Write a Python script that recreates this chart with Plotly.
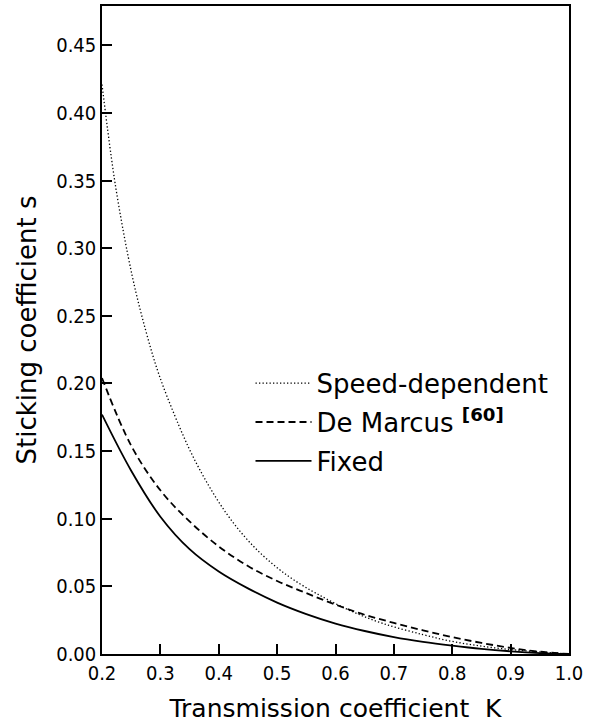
import plotly.graph_objects as go

# --- data ---
k_fixed = [0.2, 0.25, 0.3, 0.35, 0.4, 0.45, 0.5, 0.55, 0.6, 0.65,
           0.7, 0.75, 0.8, 0.85, 0.9, 0.95, 1.0]
s_fixed = [0.177, 0.1355, 0.1015, 0.0775, 0.0610, 0.0485, 0.0380, 0.0295, 0.0225, 0.0170,
           0.0125, 0.0090, 0.0062, 0.0038, 0.0020, 0.0007, 0.0]

k_demarcus = [0.2, 0.25, 0.3, 0.35, 0.4, 0.45, 0.5, 0.55, 0.6, 0.65,
              0.7, 0.75, 0.8, 0.85, 0.9, 0.95, 1.0]
s_demarcus = [0.204, 0.154, 0.121, 0.098, 0.0795, 0.065, 0.054, 0.045, 0.0365, 0.029,
              0.023, 0.0175, 0.0125, 0.0082, 0.0045, 0.0017, 0.0]

k_speed = [0.2, 0.2235, 0.252, 0.275, 0.298, 0.332, 0.355, 0.383, 0.412, 0.441,
           0.469, 0.498, 0.526, 0.567, 0.624, 0.681, 0.75, 0.8, 0.85, 0.9, 0.95, 1.0]
s_speed = [0.421, 0.345, 0.279, 0.239, 0.206, 0.1686, 0.1467, 0.1243, 0.1046, 0.0884,
           0.0755, 0.0645, 0.0555, 0.0448, 0.0323, 0.0226, 0.0143, 0.0093, 0.0058, 0.0033,
           0.0015, 0.0]

x_ticks = [0.2, 0.3, 0.4, 0.5, 0.6, 0.7, 0.8, 0.9, 1.0]
y_ticks = [0.0, 0.05, 0.10, 0.15, 0.20, 0.25, 0.30, 0.35, 0.40, 0.45]

names = ["Speed-dependent", "De Marcus <sup><b>[60]</b></sup>", "Fixed"]

TICKFONT = "Liberation Sans Narrow, DejaVu Sans Condensed, Arial Narrow, sans-serif"
TEXTFONT = "DejaVu Sans, Verdana, sans-serif"

fig = go.Figure()
fig.add_trace(go.Scatter(x=k_speed, y=s_speed, mode="lines", name=names[0],
                         line=dict(color="black", width=1.3, dash="1.3px,2.2px", shape="spline"),
                         legendgroup="a"))
fig.add_trace(go.Scatter(x=k_demarcus, y=s_demarcus, mode="lines", name=names[1],
                         line=dict(color="black", width=1.8, dash="7px,4px", shape="spline"),
                         legendgroup="b"))
fig.add_trace(go.Scatter(x=k_fixed, y=s_fixed, mode="lines", name=names[2],
                         line=dict(color="black", width=1.8, shape="spline"),
                         legendgroup="c"))

fig.update_layout(
    width=591, height=724,
    margin=dict(l=102, r=22, t=4, b=70),
    paper_bgcolor="white", plot_bgcolor="white",
    showlegend=True,
    legend=dict(x=0.318, y=0.454, xanchor="left", yanchor="top",
                bgcolor="rgba(0,0,0,0)", borderwidth=0,
                font=dict(family=TEXTFONT, size=26, color="black"),
                itemwidth=56, tracegroupgap=2, traceorder="grouped"),
    xaxis=dict(range=[0.2, 1.0], tickvals=x_ticks, tickformat=".1f",
               ticks="inside", ticklen=10, tickwidth=1.5, tickcolor="black",
               showline=True, linecolor="black", linewidth=1.5, mirror=True,
               showgrid=False, zeroline=False,
               tickfont=dict(family=TICKFONT, size=20, color="black"),
               title=dict(text="Transmission coefficient  K",
                          font=dict(family=TEXTFONT, size=25, color="black"),
                          standoff=16)),
    yaxis=dict(range=[0, 0.479], tickvals=y_ticks, tickformat=".2f",
               ticks="inside", ticklen=10, tickwidth=1.5, tickcolor="black",
               showline=True, linecolor="black", linewidth=1.5, mirror=True,
               showgrid=False, zeroline=False,
               tickfont=dict(family=TICKFONT, size=20, color="black"),
               title=dict(text="Sticking coefficient s",
                          font=dict(family=TEXTFONT, size=26, color="black"),
                          standoff=12)),
)

fig.write_html("out.html")
